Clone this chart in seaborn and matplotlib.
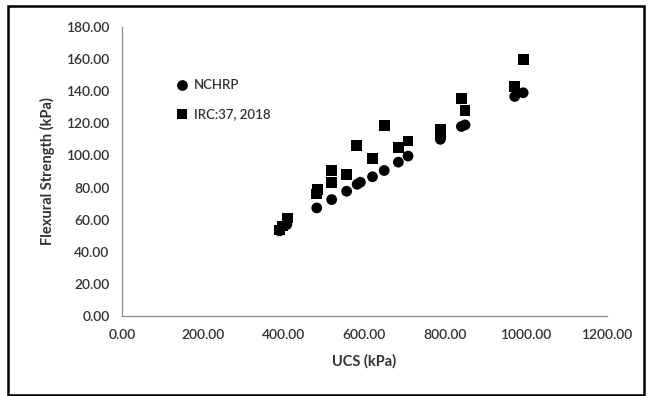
import pandas as pd
import seaborn as sns
import matplotlib.pyplot as plt
from matplotlib.patches import Rectangle

# values
nchrp_ucs = [390, 408, 482, 519, 556, 582, 590, 620, 649, 684, 708, 788, 840, 849, 972, 993]
nchrp_flex = [53.0, 57.0, 67.3, 72.5, 77.7, 82.0, 83.3, 86.7, 90.6, 95.8, 99.6, 110.0, 118.0, 119.0, 136.7, 139.0]

irc_ucs = [390, 398, 409, 482, 484, 519, 519, 556, 580, 620, 649, 684, 708, 788, 788, 840, 849, 972, 993]
irc_flex = [53.5, 56.0, 61.0, 76.0, 79.0, 83.0, 90.6, 88.0, 106.0, 98.0, 118.7, 105.0, 109.0, 113.0, 116.5, 135.4, 128.0, 142.7, 159.6]

series_names = ["NCHRP", "IRC:37, 2018"]
x_ticks = [0, 200, 400, 600, 800, 1000, 1200]
y_ticks = [0, 20, 40, 60, 80, 100, 120, 140, 160, 180]

df = pd.DataFrame({
    "UCS": nchrp_ucs + irc_ucs,
    "Flex": nchrp_flex + irc_flex,
    "Method": [series_names[0]] * len(nchrp_ucs) + [series_names[1]] * len(irc_ucs),
})

sns.set_style("white")
plt.rcParams["font.family"] = ["Lato", "DejaVu Sans"]

fig = plt.figure(figsize=(6.49, 3.96), dpi=100)
ax = fig.add_axes([0.188, 0.202, 0.747, 0.730])

sns.scatterplot(
    data=df, x="UCS", y="Flex", hue="Method", style="Method",
    markers={"NCHRP": "o", "IRC:37, 2018": "s"},
    palette={"NCHRP": "black", "IRC:37, 2018": "black"},
    s=60, linewidth=0, ax=ax,
)

ax.set_xlim(0, 1200)
ax.set_ylim(0, 180)
ax.set_xticks(x_ticks)
ax.set_yticks(y_ticks)
ax.set_xticklabels([f"{v:.2f}" for v in x_ticks])
ax.set_yticklabels([f"{v:.2f}" for v in y_ticks])
ax.tick_params(axis="both", labelsize=10, colors="#333333", length=4, width=0.8,
               color="#888888", direction="out", pad=5)
ax.tick_params(axis="x", direction="inout", length=6, pad=6)
for lab in ax.get_xticklabels() + ax.get_yticklabels():
    lab.set_fontweight("semibold")
for side in ["top", "right"]:
    ax.spines[side].set_visible(False)
for side in ["left", "bottom"]:
    ax.spines[side].set_color("#888888")
    ax.spines[side].set_linewidth(0.9)

ax.set_xlabel("UCS (kPa)", fontsize=10.5, fontweight="bold", color="#333333", labelpad=10)
ax.set_ylabel("Flexural Strength (kPa)", fontsize=10.5, fontweight="bold", color="#333333", labelpad=8)

leg = ax.legend(loc="upper left", bbox_to_anchor=(0.072, 0.86), frameon=False,
                fontsize=9.5, labelspacing=1.3, handletextpad=-0.1, markerscale=1.0)
for t in leg.get_texts():
    t.set_color("#333333")
    t.set_fontweight("semibold")

# outer frame around the whole chart
fig.patches.append(Rectangle((8 / 649, 1 / 396), 636 / 649, 389 / 396,
                             transform=fig.transFigure, fill=False,
                             edgecolor="black", linewidth=1.8))

fig.savefig("out.png", dpi=100)
